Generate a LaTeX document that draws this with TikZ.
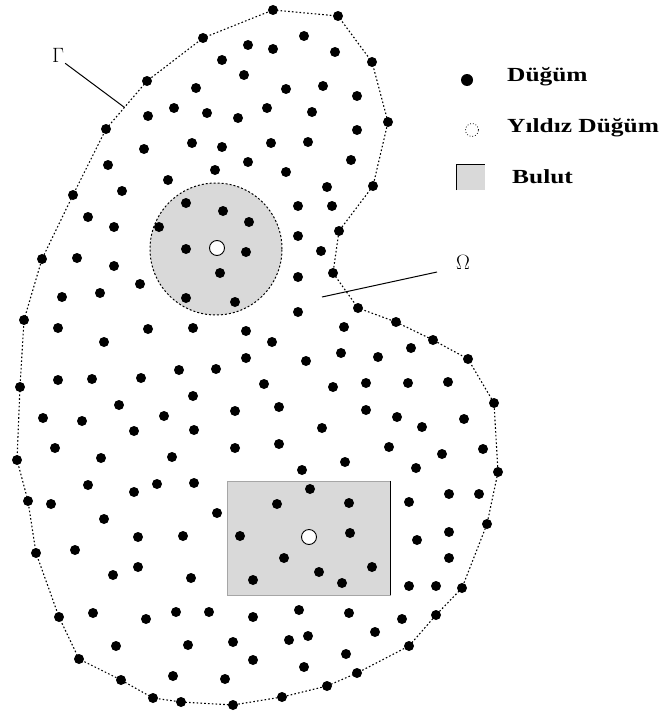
\documentclass[tikz,border=0pt]{standalone}
\usepackage{fontspec}
\setmainfont{Liberation Serif}
\usetikzlibrary{calc}
\begin{document}
\begin{tikzpicture}[x=1pt,y=-1pt,
  dotn/.style={circle,fill=black,inner sep=0pt,minimum size=10pt},
  starn/.style={circle,fill=white,draw=black,line width=0.9pt,inner sep=0pt,minimum size=15pt},
  bnd/.style={line width=1.1pt,dash pattern=on 1.6pt off 2.2pt},
  cloudfill/.style={fill=black!15},
  lbl/.style={font=\bfseries\fontsize{20}{22}\selectfont,anchor=west,inner sep=0pt},
  leader/.style={line width=1pt}
]
\useasboundingbox (0,0) rectangle (666,717);
\fill[white] (0,0) rectangle (666,717);

% clouds
\node[circle,cloudfill,draw=black,line width=1pt,dash pattern=on 2pt off 2pt,
      minimum size=132pt,inner sep=0pt] (cc) at (216,249) {};
\node[rectangle,cloudfill,draw=black!35,line width=0.5pt,minimum width=163pt,
      minimum height=114pt,inner sep=0pt] (cr) at (308.5,538) {};
\draw[line width=1.1pt] (cr.north east) -- (cr.south east);

% boundary vertices
\foreach \p [count=\i] in {(273,10),(338,16),(372,62),(388,122),(373,186),(339,231),
  (333,273),(358,308),(396,322),(433,340),(468,359),(494,403),(498,472),(487,524),
  (462,588),(436,615),(409,646),(357,673),(327,686),(282,697),(233,705),(181,702),
  (153,698),(121,680),(79,659),(59,617),(36,553),(28,501),(17,460),(20,387),(24,320),
  (42,259),(73,195),(106,129),(147,81),(203,38)}
  \node[dotn] (b\i) at \p {};
\draw[bnd] (b1.center) \foreach \i in {2,...,36}{ -- (b\i.center)} -- cycle;
\coordinate (g) at ($(b34.center)!0.45!(b35.center)$);

% interior nodes
\foreach \p [count=\i] in {(248,45),(222,60),(244,75),(196,88),(174,108),(207,113),(238,118),
  (148,116),(144,149),(192,143),(222,147),(248,162),(108,165),(215,170),(168,180),(122,191),
  (88,217),(114,227),
  (304,36),(273,49),(335,52),(286,89),(323,86),(357,96),(267,108),(312,112),(357,130),
  (271,143),(308,142),(286,172),(351,160),(327,187),(298,206),(332,206),(298,236),
  (77,258),(114,266),(140,284),(62,297),(100,293),(58,328),(104,342),(148,329),(193,328),
  (246,331),(246,358),(179,370),(216,369),(58,380),(92,379),(141,378),(193,396),(119,405),
  (43,418),(82,421),(164,416),(235,411),(134,431),(194,430),(55,448),(101,458),(172,457),
  (235,448),
  (321,251),(298,277),(298,312),(344,327),(272,342),(411,348),(306,361),(341,353),(378,357),
  (264,384),(333,387),(366,383),(408,383),(448,382),(279,407),(366,410),(397,417),(422,427),
  (464,419),(322,428),(279,444),(389,447),(442,454),(483,449),(345,462),(302,470),(416,468),
  (88,485),(134,492),(157,484),(194,483),(51,504),(104,519),(217,513),(138,537),(183,536),
  (75,550),(113,575),(138,567),(191,578),(93,613),(146,619),(176,612),(209,612),(116,646),
  (188,645),(233,642),(173,676),(225,679),(253,660),
  (253,617),(299,610),(349,613),(402,619),(375,632),(289,640),(308,636),(304,667),(346,654),
  (409,502),(449,494),(479,494),(449,532),(417,540),(449,558),(409,586),(436,586)}
  \node[dotn] (n\i) at \p {};

% nodes in the circular cloud
\foreach \p [count=\i] in {(186,203),(223,211),(249,222),(159,227),(186,249),(246,252),
  (220,273),(186,298),(235,302)}
  \node[dotn] (c\i) at \p {};
\node[starn] (cstar) at (217,248) {};

% nodes in the rectangular cloud
\foreach \p [count=\i] in {(310,489),(277,504),(349,503),(240,536),(350,533),(284,558),
  (372,567),(319,572),(253,580),(342,583)}
  \node[dotn] (r\i) at \p {};
\node[starn] (rstar) at (309,537) {};

% labels Gamma and Omega
\node[font=\fontsize{22}{24}\selectfont,inner sep=1pt] (gam) at (58,55) {$\Gamma$};
\draw[leader] (gam.south east) -- (g);
\node[font=\fontsize{20}{22}\selectfont,inner sep=1pt] (om) at (463,262) {$\Omega$};
\coordinate (os) at (437,272);
\coordinate (oe) at (322,297);
\draw[leader] (os) -- (oe);

% legend
\node[dotn,minimum size=12pt] (ld) at (467,80) {};
\node[circle,draw=black,line width=0.8pt,dotted,minimum size=13pt,inner sep=0pt] (ls) at (472,130) {};
\node[rectangle,cloudfill,minimum width=28pt,minimum height=25pt,inner sep=0pt] (lb) at (471,177.5) {};
\draw[line width=1.1pt] (lb.south west) -- (lb.north west) -- (lb.north east);
\node[lbl] (t1) at (507,77) {\scalebox{1.27}[1]{Düğüm}};
\node[lbl] (t2) at (507,128) {\scalebox{1.27}[1]{Yıldız Düğüm}};
\node[lbl] (t3) at (512,177) {\scalebox{1.27}[1]{Bulut}};
\end{tikzpicture}
\end{document}
